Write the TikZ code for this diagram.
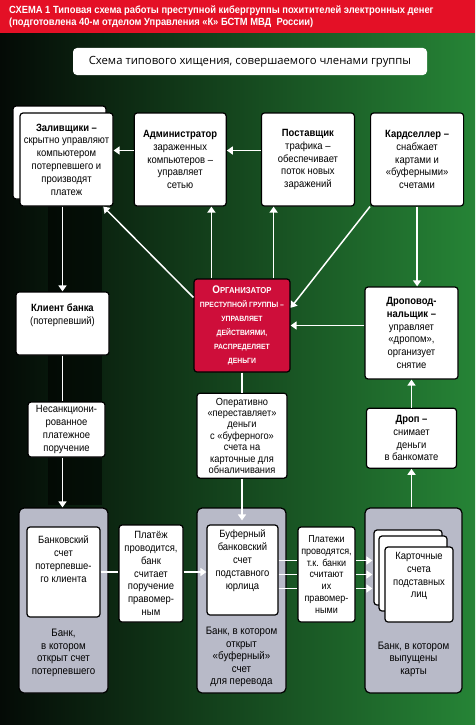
\documentclass[tikz,border=0pt]{standalone}
\usepackage{fontspec}
\setmainfont{Liberation Sans}[FakeStretch=0.9]
\newfontfamily\titlefont{Open Sans}
\usetikzlibrary{positioning, shadows, arrows.meta}

\definecolor{headred}{RGB}{228,16,38}
\definecolor{orgred}{RGB}{206,14,58}
\definecolor{bankgray}{RGB}{184,186,200}
\definecolor{bgdark}{RGB}{4,10,6}
\definecolor{bgmid}{RGB}{16,66,28}
\definecolor{bggreen}{RGB}{38,132,54}

\tikzset{
    infobox/.style = {draw, fill=white, rounded corners=3pt, line width=1.2pt, align=center, inner sep=1pt, font=\fontsize{10.5}{12.8}\selectfont},
    orgbox/.style = {infobox, fill=orgred, text=white, font=\bfseries\fontsize{7.6}{14}\selectfont},
    bankbox/.style = {draw, fill=bankgray, rounded corners=5pt, line width=1.2pt, minimum width=89pt, minimum height=185pt},
    banktext/.style = {align=center, font=\fontsize{10.8}{12.5}\selectfont},
    paper/.style = {fill=white, draw=black},
    tip/.style = {draw=white, line width=1.5pt, -{Triangle[width=8pt, length=6pt]}},
    wire/.style = {draw=white, line width=1.5pt}
}

\begin{document}
\begin{tikzpicture}[x=1pt, y=-1pt]
    % background
    \useasboundingbox (0,0) rectangle (475,725);
    \shade[left color=bgdark, middle color=bgmid, right color=bggreen] (0,0) rectangle (475,725);
    \fill[black, opacity=.55] (48,206) rectangle (102,505);
    \fill[headred] (0,0) rectangle (475,33);
    \node[anchor=west, align=left, text=white, inner sep=0pt, font=\bfseries\fontsize{10.4}{12}\selectfont] (head) at (9,17)
        {СХЕМА 1 Типовая схема работы преступной кибергруппы похитителей электронных денег\\(подготовлена 40-м отделом Управления «К» БСТМ МВД\ \ России)};
    \node[fill=white, rounded corners=4pt, minimum width=354pt, minimum height=27pt, font=\titlefont\fontsize{11.3}{13}\selectfont] (title) at (250,61.5)
        {Схема типового хищения, совершаемого членами группы};

    % top row
    \node[infobox, minimum width=93pt, minimum height=93pt,
          copy shadow={shadow xshift=-7pt, shadow yshift=7pt, paper}] (zal) at (66.5,159.5)
        {\textbf{Заливщики –}\\скрытно управляют\\компьютером\\потерпевшего и\\производят\\платеж};
    \node[infobox, minimum width=92pt, minimum height=93pt, right=20pt of zal] (adm)
        {\textbf{Администратор}\\зараженных\\компьютеров –\\управляет\\сетью};
    \node[infobox, minimum width=93pt, minimum height=93pt, right=34pt of adm] (post)
        {\textbf{Поставщик}\\трафика –\\обеспечивает\\поток новых\\заражений};
    \node[infobox, minimum width=93pt, minimum height=93pt, right=15pt of post] (card)
        {\textbf{Кардселлер –}\\снабжает\\картами и\\«буферными»\\счетами};

    % middle
    \node[infobox, minimum width=93pt, minimum height=63pt] (client) at (62.5,323.5)
        {\textbf{Клиент банка}\\(потерпевший)\\[6pt]};
    \node[orgbox, minimum width=96pt, minimum height=93pt] (org) at (242,325.5)
        {{\fontsize{11}{14}\selectfont О}{\fontsize{8.6}{14}\selectfont РГАНИЗАТОР}\\ПРЕСТУПНОЙ ГРУППЫ –\\УПРАВЛЯЕТ\\ДЕЙСТВИЯМИ,\\РАСПРЕДЕЛЯЕТ\\ДЕНЬГИ};
    \node[infobox, minimum width=93pt, minimum height=92pt] (drv) at (411.5,333)
        {\textbf{Дроповод-}\\\textbf{нальщик –}\\управляет\\«дропом»,\\организует\\снятие};
    \node[infobox, minimum width=90pt, minimum height=60pt, below=28pt of drv] (drop)
        {\textbf{Дроп –}\\снимает\\деньги\\в банкомате};
    \node[infobox, minimum width=90pt, minimum height=85pt, below=20pt of org, font=\fontsize{10.3}{11.4}\selectfont] (oper)
        {Оперативно\\«переставляет»\\деньги\\с «буферного»\\счета на\\карточные для\\обналичивания};
    \node[infobox, minimum width=77pt, minimum height=55pt] (ncp) at (66.5,429.5)
        {Несанкциони-\\рованное\\платежное\\поручение};

    % banks
    \node[bankbox] (bank1) at (63.5,600.5) {};
    \node[bankbox] (bank2) at (241.5,600.5) {};
    \node[bankbox, minimum width=97pt] (bank3) at (413.5,600.5) {};
    \node[infobox, minimum width=73pt, minimum height=90pt] (acc1) at (63.5,572)
        {\parbox[c][86pt][t]{70pt}{\centering\vspace{7pt}Банковский\\счет\\потерпевше-\\го клиента}};
    \node[infobox, minimum width=64pt, minimum height=97pt] (pay1) at (151,573.5)
        {Платёж\\проводится,\\банк\\считает\\поручение\\правомер-\\ным};
    \node[infobox, minimum width=71pt, minimum height=90pt] (buf) at (242.5,570)
        {Буферный\\банковский\\счет\\подставного\\юрлица\\[8pt]};
    \node[infobox, minimum width=57pt, minimum height=95pt, font=\fontsize{10}{11.8}\selectfont] (pay2) at (326.5,574.5)
        {Платежи\\проводятся,\\т.к. банки\\считают\\их\\правомер-\\ными};
    \node[infobox, minimum width=68pt, minimum height=75pt,
          copy shadow={shadow xshift=-11pt, shadow yshift=17pt, paper},
          copy shadow={shadow xshift=-6pt, shadow yshift=11pt, paper}] (cards) at (419,584.5)
        {Карточные\\счета\\подставных\\лиц\\[6pt]};
    \node[banktext] (bank1txt) at (63.5,653) {Банк,\\в котором\\открыт счет\\потерпевшего};
    \node[banktext] (bank2txt) at (241.5,657) {Банк, в котором\\открыт\\«буферный»\\счет\\для перевода};
    \node[banktext] (bank3txt) at (413.5,659) {Банк, в котором\\выпущены\\карты};

    % arrows
    \draw[tip]  ([yshift=9pt]adm.west) -- ([yshift=9pt]zal.east);
    \draw[tip]  ([yshift=9pt]post.west) -- ([yshift=9pt]adm.east);
    \draw[tip]  (zal.south -| client.north) -- (client.north);
    \draw[tip]  (org.150) -- (zal.-52);
    \draw[tip]  ([xshift=18pt]org.north west) -- ([xshift=18pt]org.north west |- adm.south);
    \draw[tip]  ([xshift=-17pt]org.north east) -- ([xshift=-17pt]org.north east |- post.south);
    \draw[tip]  (card.south west) -- (org.20);
    \draw[tip]  (card.south) -- (card.south |- drv.north);
    \draw[tip]  (drv.west |- org.east) -- (org.east);
    \draw[tip]  (drop.north) -- (drop.north |- drv.south);
    \draw[tip]  (bank3.north -| drop.south) -- (drop.south);
    \draw[wire] (org.south) -- (org.south |- oper.north);
    \draw[tip, shorten >=4pt]  (oper.south) -- (oper.south |- buf.north);
    \draw[wire] (client.south) -- (client.south |- ncp.north);
    \draw[tip]  (client.south |- ncp.south) -- (client.south |- bank1.north);
    \draw[wire] (acc1.east) -- (acc1.east -| pay1.west);
    \draw[tip]  (pay1.east |- acc1.east) -- (acc1.east -| buf.west);
    \coordinate (cardin) at ([xshift=8pt]bank3.west);
    \foreach \d [count=\i] in {14,0,-14} {
        \coordinate (lane\i) at ([yshift=\d pt]pay2.west);
        \draw[wire] (lane\i -| buf.east) -- (lane\i);
        \draw[tip]  (lane\i -| pay2.east) -- (lane\i -| cardin);
    }
\end{tikzpicture}
\end{document}
